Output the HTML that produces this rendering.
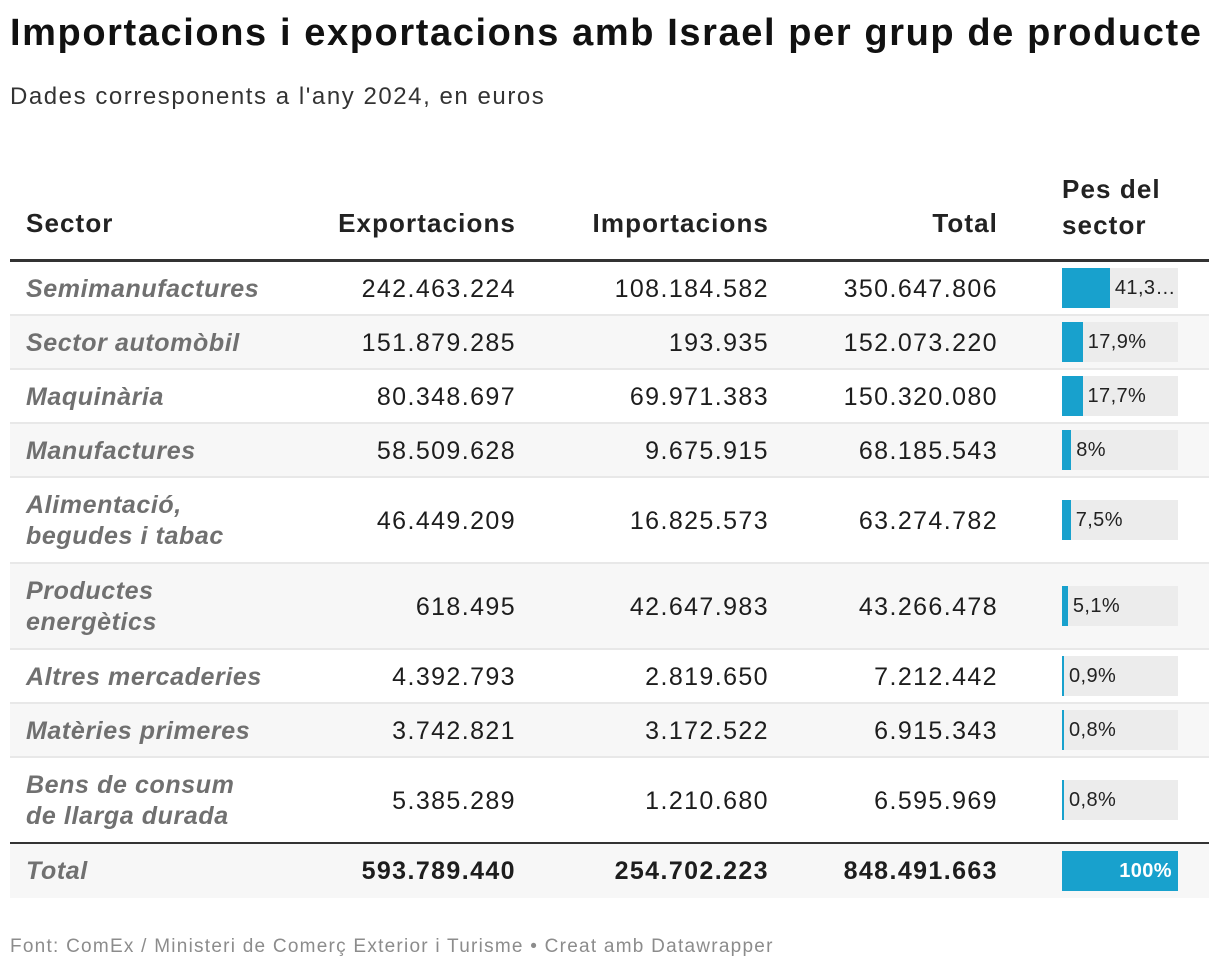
<!DOCTYPE html>
<html><head><meta charset="utf-8"><style>
body{margin:0;width:1220px;height:972px;background:#fff;font-family:"Liberation Sans",sans-serif;color:#1d1d1d;position:relative;overflow:hidden}
.a{position:absolute;white-space:nowrap}
#title{left:10px;top:12px;font-size:38px;font-weight:bold;letter-spacing:1.6px;color:#111}
#sub{left:10px;top:83px;font-size:24px;color:#333;letter-spacing:1.55px}
.h{font-size:26px;font-weight:bold;color:#222;line-height:31px;letter-spacing:1.1px}
.row{position:absolute;left:10px;width:1199px}
.c{position:absolute;font-size:25px;line-height:31px}
.sec{left:16px;font-style:italic;font-weight:bold;color:#707070;letter-spacing:0.6px}
.num{text-align:right;width:240px;letter-spacing:1.4px}
.track{position:absolute;left:1052px;width:116px;height:40px;background:#ececec}
.bar{position:absolute;left:0;top:0;height:40px;background:#18a1cd}
.pl{position:absolute;font-size:20px;line-height:40px;top:0;color:#222;letter-spacing:0.4px}
#foot{left:10px;top:936px;font-size:19px;color:#8c8c8c;letter-spacing:1.25px}
</style></head><body>
<div class="a" id="title">Importacions i exportacions amb Israel per grup de producte</div>
<div class="a" id="sub">Dades corresponents a l'any 2024, en euros</div>
<div class="a h" style="left:26px;top:208px">Sector</div>
<div class="a h" style="left:276px;width:240px;text-align:right;top:208px">Exportacions</div>
<div class="a h" style="left:529px;width:240px;text-align:right;top:208px">Importacions</div>
<div class="a h" style="left:758px;width:240px;text-align:right;top:208px">Total</div>
<div class="a h" style="left:1062px;top:171px;line-height:36px">Pes del<br>sector</div>
<div class="a" style="left:10px;top:259px;width:1199px;height:3px;background:#333"></div>
<div id="rows"></div>
<div class="a" id="foot">Font: ComEx / Ministeri de Comerç Exterior i Turisme • Creat amb Datawrapper</div>
<script>
const sectors=["Semimanufactures","Sector automòbil","Maquinària","Manufactures","Alimentació,<br>begudes i tabac","Productes<br>energètics","Altres mercaderies","Matèries primeres","Bens de consum<br>de llarga durada"];
const exportsV=["242.463.224","151.879.285","80.348.697","58.509.628","46.449.209","618.495","4.392.793","3.742.821","5.385.289"];
const importsV=["108.184.582","193.935","69.971.383","9.675.915","16.825.573","42.647.983","2.819.650","3.172.522","1.210.680"];
const totalsV=["350.647.806","152.073.220","150.320.080","68.185.543","63.274.782","43.266.478","7.212.442","6.915.343","6.595.969"];
const shares=[41.3,17.9,17.7,8,7.5,5.1,0.9,0.8,0.8];
const shareLabels=["41,3…","17,9%","17,7%","8%","7,5%","5,1%","0,9%","0,8%","0,8%"];
const totalRow=["Total","593.789.440","254.702.223","848.491.663"];
const rowsEl=document.getElementById('rows');
let y=262;
function mk(i,sec,ex,im,tot,share,lab,isTotal){
  const two=sec.indexOf('<br>')>=0;
  const h=two?86:54;
  const r=document.createElement('div');
  r.className='row';
  
  
  r.style.top=y+'px';r.style.height=h+'px';
  r.style.background=(isTotal||i%2==1)?'#f7f7f7':'#fff';
  if(!isTotal&&i<8)r.style.borderBottom='2px solid #e8e8e8',r.style.height=(h-2)+'px';
  const ty=two?(h-62)/2:(h-2-31)/2+1;
  const w=isTotal?'bold':'normal';
  r.innerHTML='<div class="c sec" style="top:'+ty+'px">'+sec+'</div>'+
   '<div class="c num" style="left:266px;top:'+((h-31)/2)+'px;font-weight:'+w+'">'+ex+'</div>'+
   '<div class="c num" style="left:519px;top:'+((h-31)/2)+'px;font-weight:'+w+'">'+im+'</div>'+
   '<div class="c num" style="left:748px;top:'+((h-31)/2)+'px;font-weight:'+w+'">'+tot+'</div>';
  const t=document.createElement('div');
  t.className='track';
  
  
  t.style.top=((isTotal?h:h-2)-40)/2+'px';
  const b=document.createElement('div');
  b.className='bar';
  
  
  const bw=Math.max(2,share/100*116);
  b.style.width=bw+'px';
  t.appendChild(b);
  const l=document.createElement('div');
  l.className='pl';
  
  
  l.textContent=lab;
  if(isTotal){l.style.right='6px';l.style.color='#fff';l.style.fontWeight='bold';}
  else l.style.left=(bw+5)+'px';
  t.appendChild(l);
  r.appendChild(t);
  rowsEl.appendChild(r);
  y+=h;
}
sectors.forEach((s,i)=>mk(i,s,exportsV[i],importsV[i],totalsV[i],shares[i],shareLabels[i],false));
const rule=document.createElement('div');
rule.className='a';


rule.style.cssText='left:10px;top:'+(y-2)+'px;width:1199px;height:2px;background:#333';
document.body.appendChild(rule);
y=844;
mk(9,totalRow[0],totalRow[1],totalRow[2],totalRow[3],100,"100%",true);
</script>
</body></html>
